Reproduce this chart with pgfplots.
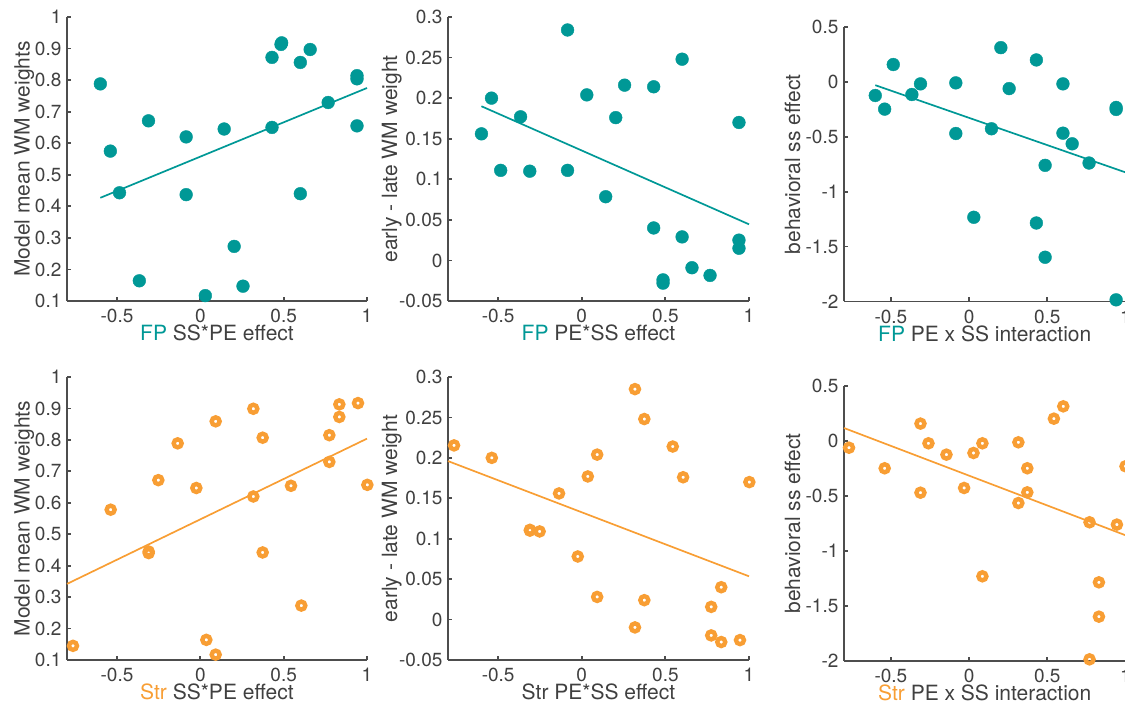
\documentclass[border=0pt]{standalone}
\usepackage{fontspec}
\setmainfont{TeX Gyre Heros}
\usepackage{pgfplots}
\pgfplotsset{compat=1.18}

\definecolor{fpteal}{RGB}{0,152,150}
\definecolor{strorange}{RGB}{248,158,52}
\definecolor{axisgray}{RGB}{77,77,77}
\definecolor{textgray}{RGB}{64,64,64}

\pgfplotsset{
  panel/.style={
    scale only axis, clip=false,
    axis x line*=bottom, axis y line*=left,
    axis line style={draw=axisgray, line width=0.9pt},
    every tick/.style={draw=axisgray, line width=0.9pt},
    tick align=inside, major tick length=2pt,
    xmin=-0.8, xmax=1,
    xtick={-0.5,0,0.5,1}, xticklabels={-0.5,0,0.5,1},
    tick label style={font=\fontsize{9.5}{11}\selectfont, text=textgray, inner sep=0pt},
    xticklabel style={yshift=-4pt},
    yticklabel style={xshift=-2.6pt},
    label style={font=\fontsize{10.5}{12}\selectfont, text=textgray, inner sep=0pt},
    xlabel style={anchor=base},
    ylabel style={anchor=base},
  },
  rowA/.style={ymin=0.1, ymax=1, ytick={0.1,0.2,0.3,0.4,0.5,0.6,0.7,0.8,0.9,1},
    yticklabels={0.1,0.2,0.3,0.4,0.5,0.6,0.7,0.8,0.9,1},
    ylabel={Model mean WM weights}},
  rowB/.style={ymin=-0.05, ymax=0.3, ytick={-0.05,0,0.05,0.1,0.15,0.2,0.25,0.3},
    yticklabels={-0.05,0,0.05,0.1,0.15,0.2,0.25,0.3},
    ylabel={early - late WM weight}},
  rowC/.style={ymin=-2, ymax=0.5, ytick={-2,-1.5,-1,-0.5,0,0.5},
    yticklabels={-2,-1.5,-1,-0.5,0,0.5},
    ylabel={behavioral ss effect}},
  fpdots/.style={only marks, mark=*, mark size=3.2pt, mark options={draw=fpteal, fill=fpteal, line width=0.2pt}},
  strdots/.style={only marks, mark=o, mark size=2pt, mark options={draw=strorange, line width=2.2pt}},
  fpfit/.style={fpteal, line width=0.85pt, no marks},
  strfit/.style={strorange, line width=0.85pt, no marks},
}

\begin{document}
\begin{tikzpicture}
\path[use as bounding box] (0,0) rectangle (562.5pt,352.5pt);
\clip (0,0) rectangle (562.5pt,352.5pt);

% top row: FP
\begin{axis}[panel, rowA, at={(33.5pt,202pt)}, anchor=south west,
    width=150pt, height=142pt,
    xlabel={\textcolor{fpteal}{FP} SS*PE effect},
    xlabel style={at={(axis description cs:0.5,-0.139)}},
    ylabel style={at={(axis description cs:-0.125,0.5)}}]
\addplot[fpdots] coordinates {
(-0.600,0.788)(-0.540,0.575)(-0.485,0.443)(-0.366,0.164)(-0.311,0.671)
(-0.085,0.620)(-0.085,0.437)(0.030,0.117)(0.143,0.645)(0.203,0.273)
(0.256,0.147)(0.430,0.872)(0.430,0.650)(0.484,0.913)(0.488,0.918)
(0.600,0.856)(0.600,0.440)(0.659,0.897)(0.767,0.729)(0.940,0.814)
(0.940,0.804)(0.940,0.655)};
\addplot[fpfit] coordinates {(-0.600,0.427)(1,0.775)};
\end{axis}

\begin{axis}[panel, rowB, at={(224pt,202pt)}, anchor=south west,
    width=150.5pt, height=142pt,
    xlabel={\textcolor{fpteal}{FP} PE*SS effect},
    xlabel style={at={(axis description cs:0.5,-0.139)}},
    ylabel style={at={(axis description cs:-0.169,0.5)}}]
\addplot[fpdots] coordinates {
(-0.600,0.156)(-0.540,0.200)(-0.485,0.111)(-0.366,0.177)(-0.311,0.110)
(-0.085,0.284)(-0.085,0.111)(0.030,0.204)(0.143,0.0785)(0.203,0.176)
(0.256,0.216)(0.430,0.214)(0.430,0.040)(0.486,-0.024)(0.486,-0.028)
(0.600,0.248)(0.600,0.029)(0.659,-0.009)(0.767,-0.0185)(0.940,0.170)
(0.940,0.025)(0.940,0.015)};
\addplot[fpfit] coordinates {(-0.600,0.190)(1,0.0445)};
\end{axis}

\begin{axis}[panel, rowC, at={(422pt,201.75pt)}, anchor=south west,
    width=140.75pt, height=137.25pt,
    xlabel={\textcolor{fpteal}{FP} PE x SS interaction},
    xlabel style={at={(axis description cs:0.5,-0.144)}},
    ylabel style={at={(axis description cs:-0.156,0.5)}}]
\addplot[fpdots] coordinates {
(-0.600,-0.124)(-0.540,-0.248)(-0.485,0.158)(-0.366,-0.115)(-0.311,-0.018)
(-0.085,-0.009)(-0.085,-0.470)(0.030,-1.233)(0.143,-0.427)(0.203,0.312)
(0.256,-0.061)(0.430,0.200)(0.430,-1.285)(0.486,-0.760)(0.486,-1.597)
(0.600,-0.018)(0.600,-0.467)(0.659,-0.564)(0.767,-0.739)(0.940,-0.233)
(0.940,-0.251)(0.940,-1.985)};
\addplot[fpfit] coordinates {(-0.600,-0.030)(1,-0.824)};
\end{axis}

% bottom row: Str
\begin{axis}[panel, rowA, at={(33.5pt,22.5pt)}, anchor=south west,
    width=150pt, height=141.5pt,
    xlabel={\textcolor{strorange}{Str} SS*PE effect},
    xlabel style={at={(axis description cs:0.5,-0.139)}},
    ylabel style={at={(axis description cs:-0.125,0.5)}}]
\addplot[strdots] coordinates {
(-0.764,0.145)(-0.538,0.578)(-0.310,0.445)(-0.310,0.440)(-0.252,0.672)
(-0.136,0.789)(-0.024,0.647)(0.036,0.164)(0.092,0.859)(0.092,0.117)
(0.318,0.899)(0.318,0.620)(0.374,0.807)(0.374,0.442)(0.544,0.654)
(0.606,0.273)(0.774,0.815)(0.774,0.730)(0.834,0.913)(0.834,0.873)
(0.946,0.917)(1.002,0.657)};
\addplot[strfit] coordinates {(-0.8,0.342)(1,0.804)};
\end{axis}

\begin{axis}[panel, rowB, at={(224pt,22.5pt)}, anchor=south west,
    width=150.5pt, height=141.5pt,
    xlabel={Str PE*SS effect},
    xlabel style={at={(axis description cs:0.5,-0.139)}},
    ylabel style={at={(axis description cs:-0.169,0.5)}}]
\addplot[strdots] coordinates {
(-0.764,0.2154)(-0.538,0.200)(-0.310,0.110)(-0.310,0.111)(-0.252,0.109)
(-0.136,0.156)(-0.024,0.078)(0.036,0.177)(0.092,0.204)(0.092,0.028)
(0.318,0.285)(0.318,-0.0097)(0.374,0.248)(0.374,0.024)(0.544,0.214)
(0.606,0.176)(0.774,0.0157)(0.774,-0.0196)(0.834,0.040)(0.834,-0.0278)
(0.946,-0.0254)(1.002,0.170)};
\addplot[strfit] coordinates {(-0.8,0.196)(1,0.0535)};
\end{axis}

\begin{axis}[panel, rowC, at={(422pt,22pt)}, anchor=south west,
    width=140.75pt, height=137.5pt,
    xlabel={\textcolor{strorange}{Str} PE x SS interaction},
    xlabel style={at={(axis description cs:0.5,-0.144)}},
    ylabel style={at={(axis description cs:-0.156,0.5)}}]
\addplot[strdots] coordinates {
(-0.768,-0.061)(-0.540,-0.248)(-0.311,0.158)(-0.311,-0.470)(-0.260,-0.021)
(-0.145,-0.124)(-0.032,-0.427)(0.028,-0.109)(0.085,-0.021)(0.085,-1.230)
(0.315,-0.012)(0.315,-0.564)(0.372,-0.248)(0.372,-0.467)(0.542,0.203)
(0.602,0.315)(0.770,-0.739)(0.770,-1.985)(0.830,-1.285)(0.830,-1.597)
(0.945,-0.760)(1.000,-0.230)};
\addplot[strfit] coordinates {(-0.8,0.118)(1,-0.857)};
\end{axis}
\end{tikzpicture}
\end{document}
